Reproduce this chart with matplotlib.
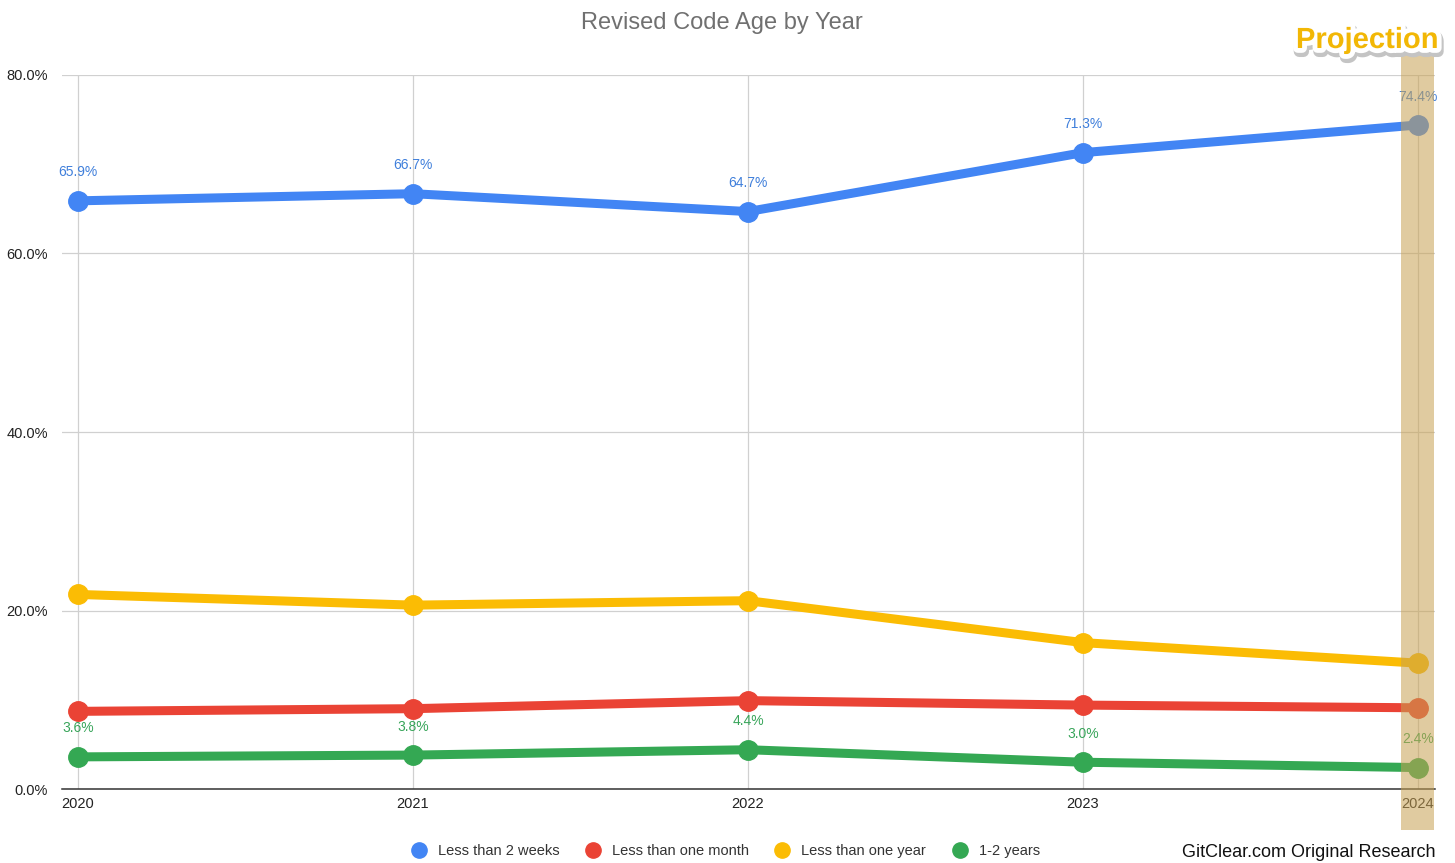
import matplotlib
matplotlib.use("Agg")
import matplotlib.pyplot as plt
import matplotlib.patheffects as pe
from matplotlib.lines import Line2D
from matplotlib.patches import Rectangle

years = [2020, 2021, 2022, 2023, 2024]
less_2_weeks = [65.9, 66.7, 64.7, 71.3, 74.4]
less_1_month = [8.7, 9.0, 9.9, 9.4, 9.1]
less_1_year = [21.8, 20.6, 21.1, 16.4, 14.1]
one_two_years = [3.6, 3.8, 4.4, 3.0, 2.4]
series_names = ["Less than 2 weeks", "Less than one month", "Less than one year", "1-2 years"]
colors = ["#4285F4", "#EA4335", "#FBBC04", "#34A853"]
label_colors = ["#3F7FDB", None, None, "#38A55A"]
y_ticks = [0, 20, 40, 60, 80]

plt.rcParams["font.family"] = ["Liberation Sans", "DejaVu Sans"]

fig = plt.figure(figsize=(14.55, 8.63), dpi=100)
ax = fig.add_axes([62 / 1455, 1 - 789 / 863, (1435 - 62) / 1455, (789 - 75) / 863])

all_series = [less_2_weeks, less_1_month, less_1_year, one_two_years]
for i, (vals, c) in enumerate(zip(all_series, colors)):
    ax.plot(years, vals, color=c, lw=6.5, marker="o", ms=14, solid_capstyle="round", zorder=3 + i * 0.1)

# value labels for the first and last series
for vals, lc in ((less_2_weeks, label_colors[0]), (one_two_years, label_colors[3])):
    for x, v in zip(years, vals):
        ax.annotate(f"{v:.1f}%", (x, v), xytext=(0, 20.5), textcoords="offset points",
                    ha="center", va="center", fontsize=10, color=lc, zorder=6)

ax.set_xlim(2020 - 16 / 335, 2024 + 17 / 335)
ax.set_ylim(0, 80)
ax.set_yticks(y_ticks)
ax.set_yticklabels([f"{t:.1f}%" for t in y_ticks])
ax.set_xticks(years)
ax.set_xticklabels([str(y) for y in years])
ax.tick_params(axis="both", length=0, labelsize=10.5, labelcolor="#222222")
ax.tick_params(axis="y", pad=10)
ax.tick_params(axis="x", pad=6)
ax.grid(True, color="#D0D0D0", lw=0.9)
ax.set_axisbelow(True)
for s in ("top", "right", "left"):
    ax.spines[s].set_visible(False)
ax.spines["bottom"].set_color("#333333")
ax.spines["bottom"].set_linewidth(1.1)

fig.text(722 / 1455, 1 - 23 / 863, "Revised Code Age by Year", ha="center", va="center",
         fontsize=17, color="#707070")

# projection band over the final year
fig.patches.append(Rectangle((1401 / 1455, 1 - 830 / 863), 33 / 1455, 775 / 863,
                             transform=fig.transFigure, facecolor="#C8A152", alpha=0.55,
                             edgecolor="none", zorder=10))
fig.text(1367 / 1455, 1 - 40 / 863, "Projection", ha="center", va="center",
         fontsize=21, fontweight="bold", color="#F2B705", zorder=11,
         path_effects=[pe.Stroke(linewidth=8, foreground="#C4C4C4", offset=(1, -2.5)),
                       pe.Stroke(linewidth=7, foreground="white"),
                       pe.Normal()])

handles = [Line2D([], [], marker="o", ls="none", ms=11, color=c) for c in colors]
fig.legend(handles, series_names, loc="center", bbox_to_anchor=(722 / 1455, 1 - 851 / 863),
           ncol=4, frameon=False, fontsize=10.5, handletextpad=0.3, columnspacing=1.3,
           labelcolor="#333333")

fig.text(1435 / 1455, 1 - 852 / 863, "GitClear.com Original Research", ha="right", va="center",
         fontsize=13, color="#111111")

fig.savefig("out.png", dpi=100, facecolor="white")
